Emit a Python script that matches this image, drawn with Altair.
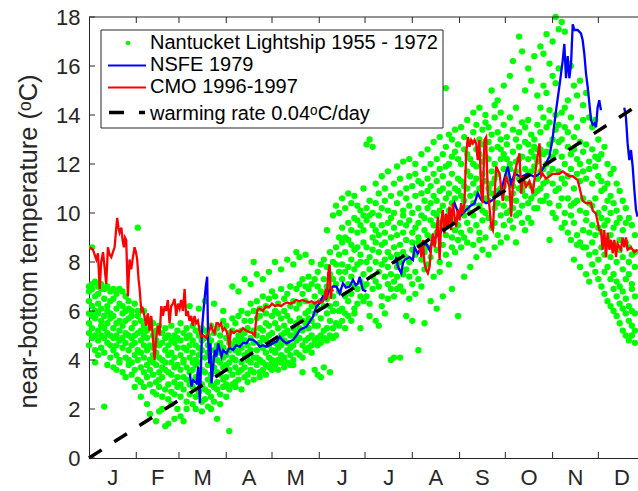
import altair as alt
import pandas as pd

FONT = "Liberation Sans"
AX = "#262626"

MONTHS = ["J", "F", "M", "A", "M", "J", "J", "A", "S", "O", "N", "D"]
MONTH_START = [0, 31, 59, 90, 120, 151, 181, 212, 243, 273, 304, 334]
MONTH_LEN = [31, 28, 31, 30, 31, 30, 31, 31, 30, 31, 30, 31]
Y_TICKS = [0, 2, 4, 6, 8, 10, 12, 14, 16, 18]

# Nantucket Lightship 1955-1972 : (day of year, [temperatures])
NANTUCKET = [
    (0, [6.4, 5.1, 7.0, 4.6, 5.9, 6.8, 5.5]), (2, [5.8, 6.9, 4.9, 6.2, 8.6, 5.3, 7.1]),
    (4, [6.6, 4.4, 5.7, 7.2, 6.0, 5.0, 3.9]), (6, [5.2, 6.3, 7.0, 4.8, 5.9, 6.7, 4.2]),
    (8, [6.9, 5.6, 4.5, 6.1, 5.0, 7.1, 5.4]), (10, [4.9, 6.5, 5.8, 2.1, 6.9, 4.3, 5.3]),
    (12, [6.2, 4.7, 7.0, 5.5, 3.8, 6.0, 5.1]), (14, [5.0, 6.8, 4.1, 5.7, 6.4, 4.6, 5.9]),
    (16, [6.5, 5.3, 4.4, 6.9, 3.7, 5.8, 4.9]), (18, [4.6, 6.1, 5.5, 3.6, 6.7, 5.0, 4.2]),
    (20, [6.9, 4.8, 5.6, 4.0, 6.3, 5.2, 3.9]), (22, [5.4, 3.5, 6.2, 4.5, 5.9, 6.8, 4.9]),
    (24, [4.1, 6.0, 5.1, 6.6, 3.3, 4.7, 5.6]), (26, [6.4, 4.4, 3.8, 5.7, 5.0, 6.1, 4.0]),
    (28, [3.9, 5.3, 6.0, 4.6, 5.8, 3.4, 4.9]), (30, [5.5, 4.2, 6.3, 3.6, 5.0, 4.7, 2.9]),
    (32, [4.4, 5.8, 3.2, 9.4, 5.1, 4.0, 6.0]), (34, [5.2, 3.7, 4.8, 2.5, 5.6, 4.3, 3.1]),
    (36, [3.5, 5.4, 4.1, 6.0, 4.6, 2.9, 5.0]), (38, [4.9, 2.2, 5.7, 3.8, 4.4, 3.3, 5.2]),
    (40, [3.0, 4.6, 5.3, 1.8, 4.0, 5.6, 3.6]), (42, [5.0, 3.9, 2.7, 4.5, 5.5, 3.4, 4.2]),
    (44, [4.3, 5.2, 3.1, 1.5, 3.8, 4.8, 2.6]), (46, [2.9, 4.1, 5.4, 3.5, 1.9, 4.6, 3.2]),
    (48, [4.7, 3.3, 2.5, 5.1, 4.0, 3.7, 2.0]), (50, [3.6, 1.3, 4.4, 5.3, 2.8, 3.9, 4.9]),
    (52, [5.0, 3.0, 4.2, 1.4, 3.5, 2.4, 4.6]), (54, [2.7, 4.8, 3.4, 5.4, 3.9, 4.3, 2.2]),
    (56, [4.1, 1.6, 3.1, 4.7, 2.6, 5.0, 3.7]), (58, [3.3, 4.5, 2.0, 5.2, 3.8, 2.9, 4.9]),
    (60, [4.8, 2.5, 3.6, 4.2, 5.5, 3.0, 1.7]), (62, [2.8, 5.1, 3.9, 1.5, 4.5, 3.3, 4.0]),
    (64, [4.4, 3.2, 5.3, 2.3, 3.7, 4.9, 2.0]), (66, [3.5, 4.6, 2.6, 5.0, 4.1, 6.2, 3.0]),
    (68, [5.4, 2.9, 4.3, 3.6, 2.2, 4.8, 3.9]), (70, [2.5, 4.0, 5.2, 3.3, 4.6, 2.0, 3.8]),
    (72, [4.5, 3.1, 6.1, 2.7, 3.9, 5.0, 4.2]), (74, [3.6, 5.3, 2.3, 4.4, 1.9, 3.0, 4.8]),
    (76, [4.9, 2.8, 3.5, 6.4, 4.1, 2.4, 5.2]), (78, [3.2, 4.6, 2.1, 5.0, 3.8, 4.3, 2.7]),
    (80, [5.4, 3.4, 4.0, 2.0, 4.8, 3.0, 2.5]), (82, [2.9, 4.4, 6.3, 3.7, 5.1, 2.3, 4.1]),
    (84, [4.6, 3.1, 1.6, 4.0, 3.5, 5.3, 2.8]), (86, [3.4, 5.0, 4.3, 2.6, 3.9, 4.7, 2.2]),
    (88, [5.6, 2.9, 3.7, 4.5, 6.0, 3.2, 4.1]), (90, [3.8, 4.9, 2.5, 5.4, 3.3, 4.2, 3.0]),
    (92, [4.4, 1.1, 3.6, 5.1, 2.8, 4.7, 3.9]), (94, [5.7, 3.4, 4.6, 7.0, 3.0, 4.1, 5.2]),
    (96, [3.1, 4.8, 4.0, 5.5, 3.7, 2.9, 4.4]), (98, [4.3, 6.8, 3.5, 5.0, 4.7, 3.2, 5.8]),
    (100, [5.2, 3.9, 2.8, 4.5, 6.0, 3.6, 4.9]), (102, [3.7, 7.3, 4.2, 5.6, 3.3, 4.8, 5.1]),
    (104, [4.6, 3.4, 5.9, 4.0, 3.1, 5.3, 4.3]), (106, [6.3, 4.9, 3.6, 7.1, 4.4, 5.6, 3.9]),
    (108, [3.5, 5.2, 8.0, 4.1, 6.0, 3.2, 4.7]), (110, [5.7, 4.4, 3.8, 7.5, 5.0, 4.1, 6.4]),
    (112, [4.0, 6.1, 3.5, 5.3, 4.7, 3.3, 5.8]), (114, [6.6, 3.9, 7.3, 4.5, 5.2, 3.6, 4.9]),
    (116, [4.3, 5.5, 3.4, 6.2, 4.8, 5.9, 3.8]), (118, [5.0, 7.6, 4.1, 3.7, 6.5, 4.6, 5.4]),
    (120, [3.6, 5.8, 4.4, 6.8, 5.1, 4.0, 3.9]), (122, [6.0, 4.7, 8.0, 3.8, 5.5, 4.3, 6.6]),
    (124, [4.5, 5.3, 3.6, 6.3, 4.0, 5.9, 4.8]), (126, [5.7, 7.7, 4.2, 5.0, 6.9, 3.9, 4.6]),
    (128, [4.1, 6.0, 5.4, 3.7, 4.8, 6.5, 5.1]), (130, [6.7, 4.4, 8.1, 5.2, 3.9, 5.8, 4.7]),
    (132, [5.0, 3.8, 6.2, 4.5, 5.6, 7.0, 4.2]), (134, [4.6, 7.9, 5.3, 6.4, 4.0, 5.0, 3.8]),
    (136, [6.9, 5.5, 4.3, 8.4, 5.1, 6.1, 4.8]), (138, [4.2, 6.3, 5.7, 4.9, 8.2, 7.1, 5.3]),
    (140, [5.6, 3.5, 6.7, 4.6, 5.2, 7.3, 4.1]), (142, [7.0, 8.3, 4.8, 5.9, 6.4, 4.4, 5.5]),
    (144, [4.5, 6.9, 5.3, 7.4, 4.9, 6.0, 5.7]), (146, [6.2, 5.0, 8.0, 4.6, 7.1, 5.6, 4.3]),
    (148, [5.4, 3.6, 6.6, 4.8, 7.3, 5.9, 6.3]), (150, [7.6, 4.9, 3.4, 6.1, 5.4, 7.0, 4.6]),
    (152, [5.0, 6.8, 3.3, 7.9, 5.7, 4.7, 6.4]), (154, [6.2, 8.1, 5.2, 3.7, 7.3, 4.9, 6.7]),
    (156, [4.8, 7.0, 9.3, 5.9, 6.5, 5.3, 7.8]), (158, [7.5, 5.6, 3.5, 8.4, 6.2, 5.0, 6.9]),
    (160, [5.3, 9.9, 6.6, 7.3, 4.9, 8.0, 6.0]), (162, [8.6, 6.3, 10.3, 5.5, 7.1, 7.9, 5.0]),
    (164, [6.0, 7.6, 5.4, 10.0, 8.3, 6.8, 9.0]), (166, [7.3, 10.6, 6.1, 8.8, 5.6, 7.9, 9.4]),
    (168, [9.0, 5.9, 7.6, 10.2, 6.6, 8.4, 5.3]), (170, [6.4, 8.9, 10.8, 7.1, 9.6, 5.8, 7.8]),
    (172, [8.1, 6.7, 9.3, 10.4, 5.6, 7.4, 8.7]), (174, [10.7, 7.0, 8.5, 6.1, 9.8, 7.7, 5.9]),
    (176, [6.9, 9.2, 7.9, 10.3, 8.6, 6.3, 9.7]), (178, [8.3, 5.3, 9.5, 7.2, 10.1, 6.6, 8.0]),
    (180, [9.9, 7.5, 6.4, 8.8, 11.0, 7.0, 9.3]), (182, [7.1, 12.8, 8.6, 9.7, 6.6, 10.2, 8.0]),
    (184, [13.0, 8.2, 9.9, 6.3, 7.7, 10.5, 5.8]), (186, [9.0, 12.7, 7.4, 10.0, 8.5, 6.9, 9.5]),
    (188, [11.2, 8.0, 5.6, 9.3, 7.2, 10.4, 8.8]), (190, [7.6, 9.9, 8.4, 5.4, 10.8, 7.0, 9.1]),
    (192, [10.2, 6.6, 11.5, 8.7, 9.5, 7.9, 6.2]), (194, [8.1, 10.5, 5.9, 9.2, 7.4, 11.0, 8.8]),
    (196, [11.7, 7.8, 9.6, 6.5, 10.1, 8.4, 7.1]), (198, [4.0, 9.0, 10.7, 7.5, 8.2, 6.9, 9.8]),
    (200, [8.6, 4.1, 10.0, 7.2, 11.2, 9.4, 6.6]), (202, [11.9, 7.8, 9.1, 6.9, 10.4, 8.3, 7.4]),
    (204, [9.6, 4.1, 8.0, 10.8, 7.0, 11.4, 8.7]), (206, [7.5, 12.1, 9.2, 10.1, 6.8, 8.4, 9.9]),
    (208, [10.6, 5.8, 8.9, 7.7, 11.0, 9.5, 8.2]), (210, [8.0, 12.2, 9.7, 6.5, 10.3, 11.5, 7.4]),
    (212, [11.1, 5.6, 8.5, 10.0, 7.1, 9.2, 8.8]), (214, [9.4, 12.0, 7.6, 10.7, 8.3, 11.6, 6.7]),
    (216, [4.4, 10.2, 8.8, 11.3, 9.6, 7.3, 9.0]), (218, [12.4, 8.1, 9.9, 7.0, 10.8, 8.6, 11.2]),
    (220, [9.3, 5.5, 10.5, 8.4, 11.8, 7.7, 9.8]), (222, [10.9, 12.6, 7.9, 9.1, 11.4, 8.6, 10.2]),
    (224, [6.4, 9.7, 11.1, 8.2, 10.4, 12.0, 9.0]), (226, [12.9, 8.8, 10.0, 7.4, 11.6, 9.5, 10.7]),
    (228, [9.9, 6.1, 11.3, 8.5, 10.5, 12.2, 9.2]), (230, [13.1, 10.1, 8.0, 11.8, 9.6, 10.9, 7.6]),
    (232, [8.7, 11.5, 6.6, 10.3, 12.4, 9.4, 11.0]), (234, [15.1, 9.8, 11.9, 8.3, 10.6, 12.7, 9.1]),
    (236, [11.2, 13.2, 9.5, 10.8, 7.9, 12.0, 10.1]), (238, [6.9, 10.4, 12.3, 9.0, 11.6, 8.6, 13.0]),
    (240, [13.4, 9.7, 11.0, 12.5, 8.4, 10.6, 9.3]), (242, [10.9, 5.8, 12.2, 9.5, 11.4, 8.9, 12.8]),
    (244, [9.2, 13.5, 10.7, 12.0, 8.6, 11.3, 10.1]), (246, [12.6, 7.4, 11.1, 9.9, 13.1, 10.5, 9.0]),
    (248, [13.8, 10.2, 8.8, 11.7, 12.4, 9.6, 11.0]), (250, [7.8, 11.5, 12.9, 10.0, 9.3, 12.2, 10.7]),
    (252, [14.1, 9.9, 11.2, 13.3, 8.7, 12.0, 10.4]), (254, [8.2, 12.6, 10.8, 11.9, 13.6, 9.5, 11.4]),
    (256, [11.0, 14.3, 9.2, 12.4, 10.3, 13.0, 8.9]), (258, [12.8, 8.5, 11.6, 10.1, 13.4, 9.7, 12.1]),
    (260, [14.0, 10.6, 12.3, 9.0, 11.3, 13.7, 10.0]), (262, [8.3, 12.9, 11.0, 13.5, 9.8, 12.2, 10.5]),
    (264, [15.0, 11.7, 9.4, 12.6, 10.8, 13.2, 11.2]), (266, [10.2, 13.9, 8.6, 12.0, 11.4, 9.6, 14.4]),
    (268, [14.6, 10.9, 12.7, 9.1, 13.3, 11.6, 10.4]), (270, [12.2, 8.8, 14.1, 11.0, 9.9, 13.0, 12.6]),
    (272, [15.2, 11.8, 10.3, 13.6, 12.4, 9.5, 11.1]), (274, [9.0, 13.1, 12.2, 11.5, 10.6, 12.8, 10.0]),
    (276, [15.6, 12.0, 10.1, 13.9, 11.3, 11.8, 9.7]), (278, [16.2, 11.1, 13.4, 9.4, 12.5, 10.2, 10.8]),
    (280, [8.8, 14.3, 12.1, 9.9, 10.5, 13.0, 11.7]), (282, [17.2, 12.7, 10.0, 12.2, 11.4, 11.0, 13.3]),
    (284, [16.6, 11.0, 13.7, 9.6, 10.3, 12.3, 10.9]), (286, [9.3, 15.0, 12.9, 11.2, 10.7, 13.5, 11.8]),
    (288, [15.9, 12.2, 10.4, 12.8, 11.6, 13.8, 9.8]), (290, [9.6, 13.2, 15.4, 11.1, 11.7, 12.5, 10.6]),
    (292, [16.4, 11.9, 12.3, 10.2, 13.0, 10.8, 12.7]), (294, [10.2, 14.8, 12.1, 12.6, 11.4, 13.6, 10.9]),
    (296, [16.8, 13.3, 11.0, 14.3, 12.6, 11.7, 10.5]), (298, [10.5, 15.2, 13.9, 11.8, 16.5, 12.4, 11.2]),
    (300, [17.3, 12.0, 14.9, 11.3, 10.7, 13.5, 12.5]), (302, [8.9, 14.2, 16.1, 12.8, 10.4, 11.6, 13.7]),
    (304, [17.0, 13.0, 11.2, 15.6, 12.3, 11.8, 10.0]), (306, [18.0, 12.5, 15.3, 10.9, 14.0, 9.8, 13.4]),
    (308, [10.3, 15.9, 12.9, 11.0, 11.7, 13.6, 17.5]), (310, [17.8, 11.4, 14.1, 12.3, 10.6, 9.4, 13.0]),
    (312, [17.4, 13.5, 10.0, 9.6, 12.0, 14.3, 11.2]), (314, [9.2, 14.6, 12.7, 16.1, 11.5, 13.3, 10.6]),
    (316, [16.0, 11.8, 13.9, 10.3, 9.9, 12.4, 8.9]), (318, [9.6, 13.1, 15.2, 11.0, 12.6, 10.4, 8.1]),
    (320, [14.8, 10.5, 12.2, 9.1, 13.5, 11.6, 8.7]), (322, [15.4, 12.9, 8.8, 11.3, 10.1, 7.8, 12.0]),
    (324, [9.3, 13.8, 11.7, 14.4, 10.6, 12.5, 8.6]), (326, [14.9, 10.0, 12.8, 8.6, 11.4, 7.5, 9.7]),
    (328, [8.3, 12.1, 13.9, 10.4, 9.2, 11.8, 7.2]), (330, [13.5, 9.5, 11.2, 7.9, 12.6, 10.3, 8.8]),
    (332, [7.6, 11.9, 10.6, 13.8, 9.1, 12.3, 8.4]), (334, [13.0, 8.1, 10.0, 11.5, 7.3, 9.4, 12.2]),
    (336, [9.8, 12.4, 7.0, 10.9, 8.6, 11.3, 9.2]), (338, [6.7, 10.2, 12.7, 8.3, 11.0, 9.5, 7.6]),
    (340, [12.0, 8.9, 6.4, 10.5, 7.8, 9.7, 11.2]), (342, [7.3, 11.6, 9.1, 6.2, 10.0, 8.2, 10.7]),
    (344, [10.4, 6.0, 8.7, 11.8, 7.5, 9.4, 6.9]), (346, [8.0, 11.2, 6.6, 9.6, 5.8, 10.1, 7.2]),
    (348, [10.9, 7.0, 5.5, 8.5, 9.8, 6.3, 8.9]), (350, [6.1, 9.3, 7.7, 10.5, 5.2, 8.2, 6.8]),
    (352, [8.8, 5.9, 10.2, 7.3, 6.5, 9.6, 5.0]), (354, [5.6, 8.0, 9.8, 6.2, 7.5, 4.8, 8.6]),
    (356, [9.5, 6.9, 5.0, 8.3, 7.1, 6.0, 5.4]), (358, [7.8, 4.7, 9.1, 5.9, 8.4, 6.6, 5.2]),
]

# NSFE 1979 (three pieces)
NSFE_1 = [
    (66.1, 3.46), (67.2, 2.91), (68.3, 3.18), (70.5, 3.05), (71.6, 3.73), (72.7, 2.24),
    (73.3, 3.46), (74.2, 5.36), (75.3, 6.18), (76.6, 7.0), (77.5, 7.4), (78.1, 4.82),
    (78.8, 3.86), (79.7, 4.68), (80.3, 3.05), (81.4, 3.73), (82.5, 4.41), (83.6, 4.14),
    (84.7, 4.68), (86.9, 4.14), (88.0, 4.4), (90.2, 4.27), (92.0, 4.5), (94.5, 4.41),
    (96.5, 4.6), (98.9, 4.54), (101.0, 4.7), (103.3, 4.68), (105.0, 4.85), (107.6, 4.82),
    (110.0, 4.7), (112.0, 4.54), (114.0, 4.6), (116.4, 4.54), (118.5, 4.6), (120.7, 4.68),
    (123.0, 4.75), (125.1, 4.95), (127.0, 4.8), (129.5, 4.68), (131.5, 4.75), (133.8, 4.82),
    (136.0, 5.0), (138.2, 5.23), (140.5, 5.3), (142.6, 5.36), (145.0, 5.6), (146.9, 5.77),
    (149.1, 6.18), (151.0, 6.3), (153.4, 6.59), (155.5, 6.5), (157.8, 6.86), (160.0, 7.0),
    (162.2, 7.0), (164.4, 6.72), (166.5, 7.13), (168.5, 6.95), (170.9, 7.0), (173.1, 7.27),
    (175.0, 7.05), (176.4, 7.13), (177.5, 7.4), (179.6, 6.86), (181.9, 6.8),
]
NSFE_2 = [
    (200.4, 7.94), (201.5, 8.2), (202.6, 7.8), (204.8, 7.54), (205.8, 7.94), (206.9, 8.08),
    (210.2, 8.2), (212.4, 8.08), (213.5, 8.6), (215.6, 8.35), (217.9, 8.6), (221.1, 8.76),
    (223.3, 8.49), (225.5, 8.9), (229.9, 9.17), (233.1, 9.44), (236.4, 9.71), (239.7, 10.4),
    (243.0, 9.85), (245.1, 9.98), (249.5, 10.26), (252.8, 10.4), (254.9, 10.8), (257.2, 10.53),
    (260.4, 10.4), (264.8, 10.53), (268.0, 10.8), (270.3, 10.94), (274.6, 11.9), (276.8, 11.2),
    (279.0, 11.6), (283.4, 11.48), (287.7, 11.6), (292.1, 11.48), (295.4, 11.6), (298.6, 11.9),
    (301.9, 12.3), (304.1, 13.1), (306.3, 14.2), (308.4, 15.15), (310.6, 16.2), (311.7, 16.9),
    (312.8, 15.5), (313.9, 16.4), (315.0, 15.5), (316.1, 16.1), (317.2, 17.7), (318.3, 17.47),
    (320.4, 17.47), (322.6, 17.33), (323.7, 17.06), (324.8, 16.5), (325.9, 15.7), (327.0, 15.15),
    (328.1, 14.47), (329.2, 13.8), (330.3, 13.6), (331.4, 13.66), (332.5, 13.5), (333.5, 14.3),
    (334.6, 14.6), (335.7, 14.2),
]
NSFE_3 = [
    (351.0, 14.3), (352.1, 13.9), (353.2, 12.84), (354.3, 12.16), (355.4, 12.57),
    (356.5, 11.9), (357.6, 10.94), (358.7, 10.12), (359.7, 9.85),
]

# CMO 1996-1997 (two pieces)
CMO_1 = [
    (0.4, 8.6), (2.6, 8.5), (4.8, 8.1), (5.9, 8.35), (7.0, 6.9), (8.0, 8.0), (9.2, 8.4),
    (10.2, 7.8), (11.3, 7.1), (12.4, 8.6), (13.5, 8.3), (14.6, 8.2), (15.7, 8.4), (16.8, 8.6),
    (17.6, 9.2), (18.5, 9.8), (19.3, 9.4), (20.1, 9.2), (21.2, 9.4), (22.0, 8.9), (22.9, 8.6),
    (23.6, 9.0), (24.4, 8.9), (25.5, 6.6), (26.6, 8.1), (27.7, 7.7), (28.8, 8.2), (29.9, 8.6),
    (30.8, 8.4), (31.6, 8.1), (32.5, 7.3), (33.2, 6.9), (34.3, 6.0), (35.2, 6.1), (36.0, 5.9),
    (37.5, 5.4), (38.6, 5.9), (39.7, 5.2), (40.8, 5.8), (41.9, 4.9), (43.0, 4.0), (44.1, 4.9),
    (45.2, 5.4), (46.3, 5.0), (47.4, 6.2), (48.5, 5.8), (49.6, 6.2), (50.6, 6.0), (51.7, 6.45),
    (52.8, 5.5), (53.9, 6.2), (55.0, 6.3), (56.1, 6.5), (57.2, 5.8), (58.3, 6.3), (59.4, 6.1),
    (60.4, 6.45), (61.6, 6.0), (62.7, 6.9), (63.7, 5.8), (64.8, 6.0), (65.9, 5.6), (67.0, 5.8),
    (68.1, 5.4), (69.2, 5.8), (70.3, 5.5), (71.4, 5.6), (72.5, 5.2), (73.5, 4.95), (75.0, 5.0),
    (76.8, 4.9), (78.3, 5.1), (80.1, 5.4), (81.2, 5.2), (82.3, 5.1), (83.6, 5.5), (84.5, 5.5),
    (85.5, 5.4), (86.6, 5.5), (87.7, 5.2), (88.9, 5.3), (90.0, 5.2), (91.0, 5.0), (92.0, 4.5),
    (93.0, 5.2), (95.0, 5.1), (97.0, 5.2), (99.0, 5.15), (101.0, 5.3), (103.0, 5.2),
    (105.0, 5.15), (107.0, 5.1), (108.7, 5.0), (109.8, 5.8), (110.5, 6.05), (112.0, 6.1),
    (114.0, 6.0), (116.0, 6.2), (118.0, 6.15), (120.0, 6.3), (122.0, 6.2), (124.0, 6.25),
    (126.0, 6.2), (128.0, 6.3), (130.0, 6.35), (132.0, 6.3), (134.0, 6.35), (136.0, 6.45),
    (138.0, 6.4), (140.0, 6.45), (142.0, 6.4), (144.0, 6.35), (146.0, 6.4), (148.0, 6.3),
    (150.0, 6.4), (152.0, 6.35), (153.5, 6.4), (154.5, 6.6), (155.2, 6.9), (156.0, 6.5),
    (156.8, 7.5), (157.8, 7.9), (158.5, 6.5), (159.2, 6.9), (160.0, 6.8),
]
CMO_2 = [
    (216.8, 8.63), (217.9, 8.2), (218.9, 8.9), (220.0, 7.94), (221.2, 7.67), (222.2, 7.54),
    (223.3, 7.8), (224.4, 8.6), (225.5, 9.17), (226.6, 8.6), (227.7, 9.17), (228.8, 9.85),
    (229.9, 8.08), (231.0, 9.7), (232.0, 10.12), (233.1, 9.17), (234.2, 9.98), (235.3, 9.44),
    (236.4, 10.26), (237.5, 9.3), (238.6, 10.4), (239.7, 9.85), (240.8, 9.44), (241.8, 10.12),
    (243.0, 9.7), (244.0, 10.4), (245.1, 9.98), (246.2, 10.4), (247.3, 12.4), (248.4, 13.1),
    (249.5, 12.7), (250.6, 12.98), (251.7, 12.84), (252.8, 12.98), (253.9, 12.84),
    (254.9, 12.16), (256.0, 12.98), (257.2, 10.8), (258.2, 10.4), (259.3, 12.98),
    (260.4, 13.1), (261.5, 10.8), (262.6, 10.26), (263.7, 9.44), (264.8, 9.3), (267.0, 11.9),
    (269.2, 11.6), (271.3, 10.5), (273.5, 11.5), (275.7, 11.07), (276.8, 9.85), (277.9, 11.07),
    (280.1, 11.9), (282.3, 12.44), (283.4, 10.8), (284.4, 11.5), (286.6, 11.07), (288.8, 11.3),
    (291.0, 10.8), (293.2, 11.9), (295.4, 12.84), (296.5, 11.5), (297.5, 11.6), (299.7, 11.4),
    (304.1, 11.6), (308.4, 11.6), (310.6, 11.7), (312.8, 11.6), (315.0, 11.5), (317.2, 11.5),
    (320.4, 11.35), (321.5, 11.07), (323.7, 10.5), (325.9, 10.4), (329.2, 10.4), (330.3, 10.1),
    (332.4, 9.98), (334.6, 9.3), (335.7, 9.3), (336.8, 8.5), (337.9, 9.3), (339.0, 8.2),
    (340.1, 9.2), (341.2, 8.5), (342.3, 8.9), (343.4, 8.35), (344.5, 8.9), (345.6, 8.2),
    (346.6, 8.75), (348.8, 8.5), (349.9, 9.0), (351.0, 8.6), (352.1, 9.0), (353.2, 8.5),
    (355.4, 8.6), (357.6, 8.4), (359.7, 8.5),
]

# warming rate 0.04 C/day line end points
WARM_DAY = [0, 365]
WARM_TEMP = [0.0, 14.6]

# ---------------- tables ----------------
nl_df = pd.DataFrame(
    [{"day": d, "temp": t} for d, temps in NANTUCKET for t in temps]
)


def seg_df(pieces):
    rows = []
    for i, piece in enumerate(pieces):
        for d, t in piece:
            rows.append({"day": d, "temp": t, "seg": i})
    return pd.DataFrame(rows)


nsfe_df = seg_df([NSFE_1, NSFE_2, NSFE_3])
cmo_df = seg_df([CMO_1, CMO_2])
warm_df = pd.DataFrame({"day": WARM_DAY, "temp": WARM_TEMP})
month_df = pd.DataFrame(
    {"day": [s + n / 2 for s, n in zip(MONTH_START, MONTH_LEN)], "m": MONTHS}
)
mstart_df = pd.DataFrame({"day": MONTH_START[1:]})
ytick_df = pd.DataFrame({"temp": Y_TICKS})
one = pd.DataFrame({"k": [0]})

W, H = 549, 441

xs = alt.Scale(domain=[0, 360], nice=False, zero=False)
ys = alt.Scale(domain=[0, 18], nice=False, zero=False)
x_axis = alt.Axis(
    labels=False, ticks=False, tickSize=0, grid=False, title=None,
    domainColor=AX, domainWidth=1,
)
y_axis = alt.Axis(
    values=Y_TICKS, grid=False, ticks=False, tickSize=0,
    labelFont=FONT, labelFontSize=22, labelColor=AX, labelPadding=9,
    domainColor=AX, domainWidth=1,
    title="near-bottom temperature (ᵒC)", titleFont=FONT, titleFontSize=25.5,
    titleFontWeight="normal", titleColor=AX, titleX=-53, titleY=224,
    titleBaseline="alphabetic",
)


def X(field="day"):
    return alt.X(f"{field}:Q", scale=xs, axis=x_axis)


def Y(field="temp"):
    return alt.Y(f"{field}:Q", scale=ys, axis=y_axis)


points = alt.Chart(nl_df).mark_circle(color="#00ff00", size=40, opacity=1).encode(
    x=X(), y=Y()
)
blue = alt.Chart(nsfe_df).mark_line(color="#0000ff", strokeWidth=2.3).encode(
    x=X(), y=Y(), detail="seg:N", order="day:Q"
)
red = alt.Chart(cmo_df).mark_line(color="#ff0000", strokeWidth=2.3).encode(
    x=X(), y=Y(), detail="seg:N", order="day:Q"
)
warm = alt.Chart(warm_df).mark_line(
    color="black", strokeWidth=3.5, strokeDash=[15, 15]
).encode(x=X(), y=Y())

xticks_b = alt.Chart(mstart_df).mark_rule(color=AX, strokeWidth=1).encode(
    x=X(), y=alt.value(H), y2=alt.value(H - 6)
)
xticks_t = alt.Chart(mstart_df).mark_rule(color=AX, strokeWidth=1).encode(
    x=X(), y=alt.value(0), y2=alt.value(6)
)
yticks = alt.Chart(ytick_df).mark_rule(color=AX, strokeWidth=1).encode(
    y=Y(), x=alt.value(0), x2=alt.value(6)
)
top_border = alt.Chart(one).mark_rule(color=AX, strokeWidth=1).encode(
    x=alt.value(0), x2=alt.value(W), y=alt.value(0)
)
month_labels = alt.Chart(month_df).mark_text(
    font=FONT, fontSize=22, color=AX, baseline="alphabetic", align="center"
).encode(x=X(), y=alt.value(H + 27), text="m:N")

# legend
leg_box = alt.Chart(one).mark_rect(
    fill="white", stroke=AX, strokeWidth=1
).encode(x=alt.value(12), x2=alt.value(354), y=alt.value(13), y2=alt.value(111))
leg_dot = alt.Chart(one).mark_circle(color="#00ff00", size=22, opacity=1).encode(
    x=alt.value(39), y=alt.value(26)
)
leg_blue = alt.Chart(one).mark_rule(color="#0000ff", strokeWidth=2).encode(
    x=alt.value(19), x2=alt.value(57), y=alt.value(48.5)
)
leg_red = alt.Chart(one).mark_rule(color="#ff0000", strokeWidth=2).encode(
    x=alt.value(19), x2=alt.value(57), y=alt.value(70.5)
)
leg_warm = alt.Chart(one).mark_rule(
    color="black", strokeWidth=3.5, strokeDash=[15, 15]
).encode(x=alt.value(20), x2=alt.value(56), y=alt.value(95.5))

LEG_TEXT = [
    "Nantucket Lightship 1955 - 1972",
    "NSFE 1979",
    "CMO 1996-1997",
    "warming rate 0.04ᵒC/day",
]
LEG_BASE = [32, 54, 76, 103]
leg_texts = [
    alt.Chart(one).mark_text(
        text=t, font=FONT, fontSize=20, color="black", align="left",
        baseline="alphabetic",
    ).encode(x=alt.value(61), y=alt.value(b))
    for t, b in zip(LEG_TEXT, LEG_BASE)
]

chart = alt.layer(
    points, blue, red, warm, xticks_b, xticks_t, yticks, top_border, month_labels,
    leg_box, leg_dot, leg_blue, leg_red, leg_warm, *leg_texts,
).properties(
    width=W, height=H,
    autosize=alt.AutoSizeParams(type="none"),
    padding={"left": 89, "top": 17, "right": 0, "bottom": 33},
    background="white",
).configure_view(stroke=None)

chart.save("out.html", embed_options={"renderer": "svg", "actions": False})
